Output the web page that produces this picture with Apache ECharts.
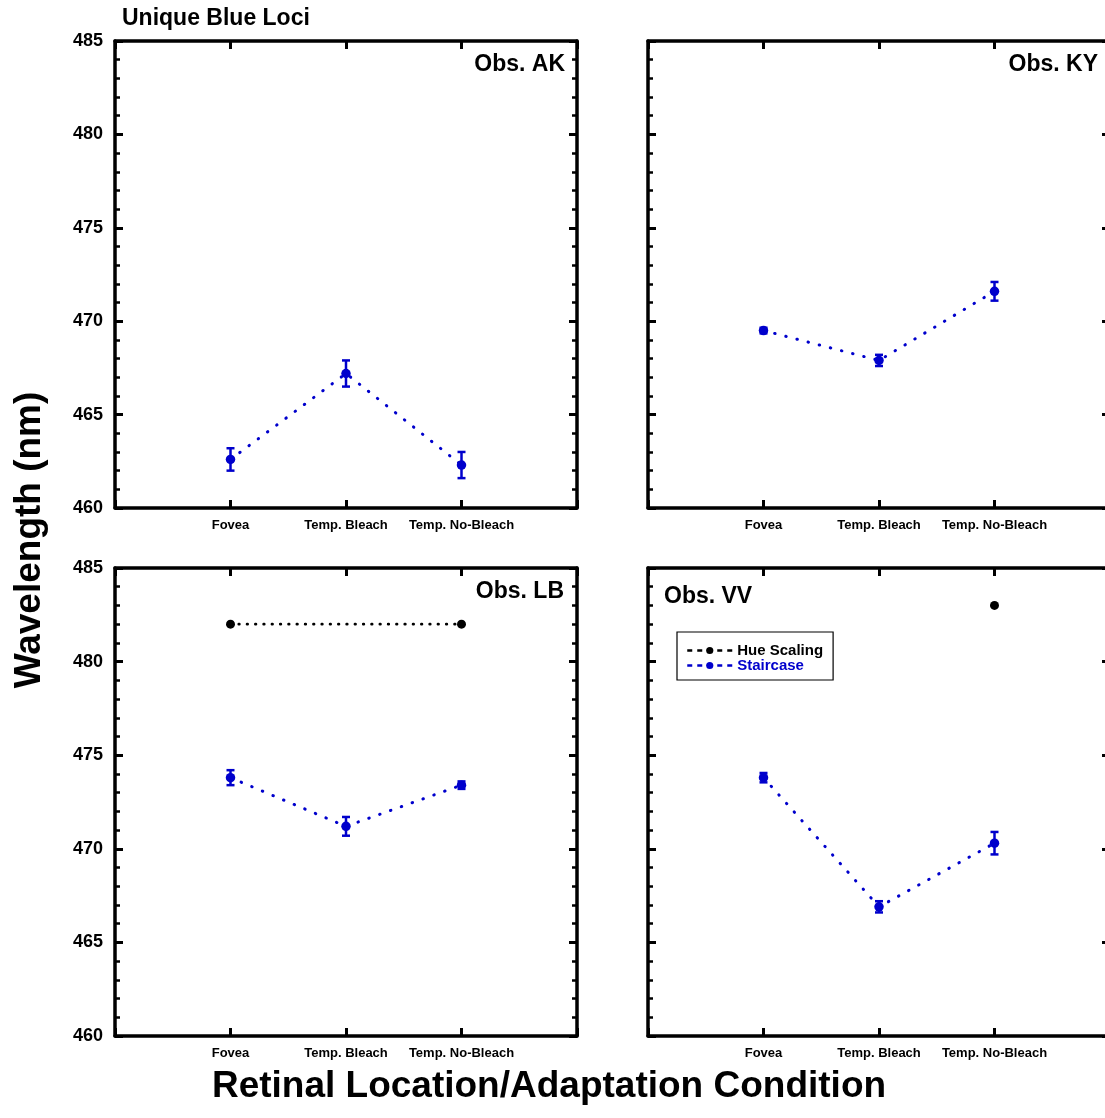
<!DOCTYPE html>
<html>
<head>
<meta charset="utf-8">
<title>Unique Blue Loci</title>
<script src="https://cdn.jsdelivr.net/npm/echarts@6/dist/echarts.min.js"></script>
<style>
  html, body { margin: 0; padding: 0; background: #fff; }
  #chart { width: 1105px; height: 1118px; }
</style>
</head>
<body>
<div id="chart"></div>
<script>
// Retinal location / adaptation conditions along the x axis (positions 1..3)
const conditions = ['Fovea', 'Temp. Bleach', 'Temp. No-Bleach'];
const observers = ['Obs. AK', 'Obs. KY', 'Obs. LB', 'Obs. VV'];

// Staircase unique-blue settings (nm) and their error half-widths
const staircaseAK = [462.6, 467.2, 462.3];
const staircaseKY = [469.5, 467.9, 471.6];
const staircaseLB = [473.8, 471.2, 473.4];
const staircaseVV = [473.8, 466.9, 470.3];
const errorAK = [0.6, 0.7, 0.7];
const errorKY = [0.15, 0.3, 0.5];
const errorLB = [0.4, 0.5, 0.2];
const errorVV = [0.25, 0.3, 0.6];

// Hue-scaling unique-blue loci (nm); null where not measured
const hueAK = [null, null, null];
const hueKY = [null, null, null];
const hueLB = [482, null, 482];
const hueVV = [null, null, 483];

// Axis ticks
const yTicks = [460, 465, 470, 475, 480, 485];

const staircase = [staircaseAK, staircaseKY, staircaseLB, staircaseVV];
const errors = [errorAK, errorKY, errorLB, errorVV];
const hue = [hueAK, hueKY, hueLB, hueVV];

const BLUE = '#0000cc';
const FONT = '"Liberation Sans", Arial, Helvetica, sans-serif';

const panelBoxes = [
  { left: 115, top: 41, width: 462, height: 467 },
  { left: 648, top: 41, width: 462, height: 467 },
  { left: 115, top: 568, width: 462, height: 468 },
  { left: 648, top: 568, width: 462, height: 468 }
];

const frameLine = { show: true, onZero: false, lineStyle: { color: '#000', width: 3.5 } };
const majorTick = { show: true, inside: true, length: 8, lineStyle: { color: '#000', width: 3 } };
const minorTick = { show: true, splitNumber: 5, length: 5, lineStyle: { color: '#000', width: 2.5 } };

const grids = [], xAxes = [], yAxes = [], series = [], titles = [];

panelBoxes.forEach((box, p) => {
  grids.push(Object.assign({ containLabel: false, outerBoundsMode: 'none' }, box));
  const isLeft = p % 2 === 0;

  // bottom axis with condition labels
  xAxes.push({
    type: 'value', gridIndex: p, position: 'bottom', min: 0, max: 4, interval: 1,
    axisLine: frameLine, axisTick: majorTick, splitLine: { show: false },
    axisLabel: {
      show: true, margin: 11, color: '#000', fontFamily: FONT, fontWeight: 'bold', fontSize: 13,
      formatter: v => conditions[v - 1] || ''
    }
  });
  // top frame
  xAxes.push({
    type: 'value', gridIndex: p, position: 'top', min: 0, max: 4, interval: 1,
    axisLine: frameLine, axisTick: majorTick, splitLine: { show: false },
    axisLabel: { show: false }
  });
  // left wavelength axis
  yAxes.push({
    type: 'value', gridIndex: p, position: 'left',
    min: yTicks[0], max: yTicks[yTicks.length - 1], interval: yTicks[1] - yTicks[0],
    axisLine: frameLine, axisTick: majorTick, minorTick: minorTick, splitLine: { show: false },
    axisLabel: {
      show: isLeft, margin: 12, color: '#000', fontFamily: FONT, fontWeight: 'bold', fontSize: 18
    }
  });
  // right frame
  yAxes.push({
    type: 'value', gridIndex: p, position: 'right',
    min: yTicks[0], max: yTicks[yTicks.length - 1], interval: yTicks[1] - yTicks[0],
    axisLine: frameLine, axisTick: majorTick, minorTick: minorTick, splitLine: { show: false },
    axisLabel: { show: false }
  });

  const xi = p * 2, yi = p * 2;

  // error bars
  series.push({
    type: 'custom', name: 'Staircase error', xAxisIndex: xi, yAxisIndex: yi, z: 2,
    data: staircase[p].map((v, i) => [i + 1, v - errors[p][i], v + errors[p][i]]),
    renderItem: (params, api) => {
      const lo = api.coord([api.value(0), api.value(1)]);
      const hi = api.coord([api.value(0), api.value(2)]);
      const w = 4;
      const st = { stroke: BLUE, lineWidth: 2.5 };
      return {
        type: 'group',
        children: [
          { type: 'line', shape: { x1: lo[0], y1: lo[1], x2: hi[0], y2: hi[1] }, style: st },
          { type: 'line', shape: { x1: lo[0] - w, y1: lo[1], x2: lo[0] + w, y2: lo[1] }, style: st },
          { type: 'line', shape: { x1: hi[0] - w, y1: hi[1], x2: hi[0] + w, y2: hi[1] }, style: st }
        ]
      };
    },
    silent: true
  });

  // staircase means
  series.push({
    type: 'line', name: 'Staircase', xAxisIndex: xi, yAxisIndex: yi, z: 3,
    data: staircase[p].map((v, i) => [i + 1, v]),
    symbol: 'circle', symbolSize: 9.5, showAllSymbol: true,
    itemStyle: { color: BLUE },
    lineStyle: { color: BLUE, width: 3, type: [0.5, 11], cap: 'round' },
    animation: false
  });

  // hue scaling loci
  series.push({
    type: 'line', name: 'Hue Scaling', xAxisIndex: xi, yAxisIndex: yi, z: 3,
    data: hue[p].map((v, i) => [i + 1, v]),
    connectNulls: true,
    symbol: 'circle', symbolSize: 9, showAllSymbol: true,
    itemStyle: { color: '#000' },
    lineStyle: { color: '#000', width: 2.8, type: [0.5, 7.8], cap: 'round' },
    animation: false
  });
});

// panel labels
const obsPos = [
  { right: 1105 - 565, top: 53 },
  { right: 7, top: 53 },
  { right: 1105 - 564, top: 580 },
  { left: 664, top: 585 }
];
observers.forEach((name, p) => {
  titles.push(Object.assign({
    text: name, padding: 0,
    textStyle: { fontFamily: FONT, fontWeight: 'bold', fontSize: 23, color: '#000' }
  }, obsPos[p]));
});
titles.push({
  text: 'Unique Blue Loci', left: 122, top: 7, padding: 0,
  textStyle: { fontFamily: FONT, fontWeight: 'bold', fontSize: 23, color: '#000' }
});

const chart = echarts.init(document.getElementById('chart'), null, { renderer: 'canvas' });
chart.setOption({
  animation: false,
  backgroundColor: '#fff',
  title: titles,
  grid: grids,
  xAxis: xAxes,
  yAxis: yAxes,
  series: series,
  legend: {
    left: 677, top: 632, orient: 'vertical',
    padding: [11, 10, 7, 9], itemGap: 0, itemWidth: 45, itemHeight: 9,
    borderColor: '#000', borderWidth: 1.2, backgroundColor: '#fff',
    lineStyle: { type: [5, 5], width: 2.5, cap: 'butt' },
    selectedMode: false,
    textStyle: { fontFamily: FONT, fontWeight: 'bold', fontSize: 15 },
    data: [
      { name: 'Hue Scaling', textStyle: { color: '#000' } },
      { name: 'Staircase', textStyle: { color: BLUE } }
    ]
  },
  graphic: [
    {
      type: 'text', x: 30, y: 540, rotation: Math.PI / 2,
      style: {
        text: 'Wavelength (nm)', fill: '#000', font: 'bold 37px ' + FONT,
        textAlign: 'center', textVerticalAlign: 'middle'
      }
    },
    {
      type: 'text', x: 549, y: 1087,
      style: {
        text: 'Retinal Location/Adaptation Condition', fill: '#000', font: 'bold 37px ' + FONT,
        textAlign: 'center', textVerticalAlign: 'middle'
      }
    }
  ]
});
</script>
</body>
</html>
